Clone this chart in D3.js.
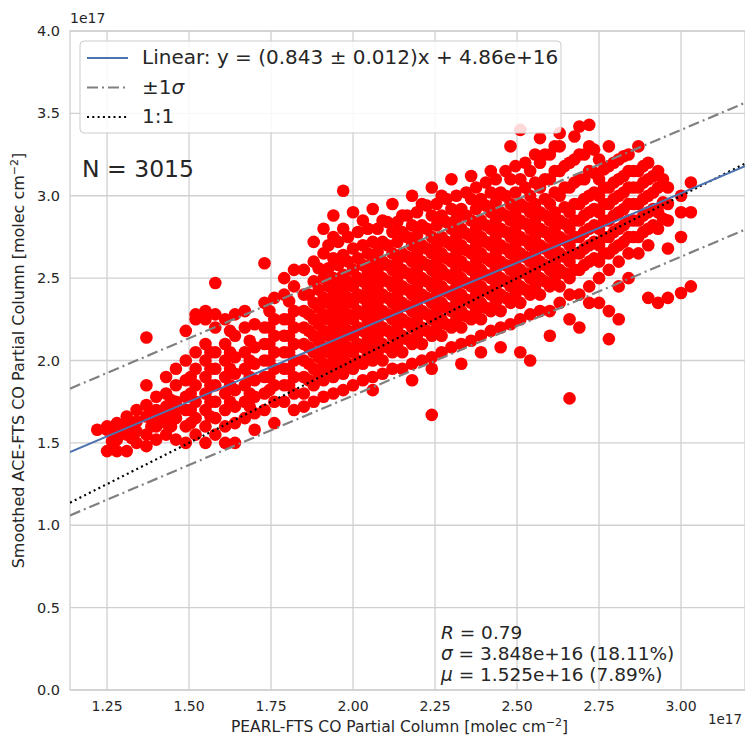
<!DOCTYPE html><html><head><meta charset="utf-8">
<script src="https://cdn.jsdelivr.net/npm/d3@7"></script>
<style>body{margin:0;background:#fff}text{font-family:"DejaVu Sans",sans-serif;fill:#262626}</style></head><body>
<svg id="c" width="745" height="738"></svg>
<script>
// scatter: x strip (1e17) and y values (1e17) in that strip
const stripX=[1.22,1.25,1.28,1.31,1.34,1.37,1.40,1.43,1.46,1.49,1.52,1.55,1.58,1.61,1.64,1.67,1.70,1.73,1.76,1.79,1.82,1.85,1.88,1.91,1.94,1.97,2.00,2.03,2.06,2.09,2.12,2.15,2.18,2.21,2.24,2.27,2.30,2.33,2.36,2.39,2.42,2.45,2.48,2.51,2.54,2.57,2.60,2.63,2.66,2.69,2.72,2.75,2.78,2.81,2.84,2.87,2.90,2.93,2.96,3.00,3.03];
const stripY=[[1.58],[1.58,1.45,1.6],[1.56,1.45,1.62,1.52],[1.45,1.55,1.66,1.6],[1.5,1.63,1.7,1.57],[1.55,1.66,1.73,1.48,2.14,1.85],[1.6,1.7,1.78,1.52,1.65],[1.62,1.72,1.8,1.55,1.9,1.68],[1.65,1.75,1.85,1.52,1.95,1.7],[1.6,1.7,1.78,1.88,2.0,1.5,2.18],[1.65,1.75,1.85,1.95,2.05,2.25,1.55,2.28],[1.6,1.7,1.8,1.9,2.0,2.1,2.25,1.5,2.3],[1.65,1.75,1.85,1.95,2.05,2.2,2.47,1.55,2.28],[1.7,1.8,1.9,2.0,2.1,2.25,1.6,1.5],[1.72,1.82,1.92,2.02,2.15,2.28,1.62,1.5],[1.75,1.85,1.95,2.05,2.2,1.65,2.3],[1.78,1.88,1.98,2.08,2.22,1.68,1.58],[1.8,1.9,2.0,2.1,2.2,2.59,1.7,2.35],[1.85,1.95,2.05,2.15,2.25,1.75,1.62,2.38],[1.85,1.95,2.05,2.15,2.25,2.4,1.75,2.5],[1.9,2.0,2.1,2.2,2.3,2.45,1.8,1.7,2.55],[1.9,2.0,2.1,2.2,2.3,2.4,2.55,1.8,1.72],[1.85,1.95,2.05,2.15,2.25,2.35,2.48,2.6,1.75,2.72],[1.88,1.98,2.08,2.18,2.28,2.38,2.5,2.65,1.78,2.8],[1.9,2.0,2.1,2.2,2.3,2.4,2.5,2.62,1.8,2.75,2.88],[1.92,2.02,2.12,2.22,2.32,2.42,2.52,2.64,1.82,3.03,2.8],[1.95,2.05,2.15,2.25,2.35,2.45,2.55,2.68,1.85,2.9],[1.98,2.08,2.18,2.28,2.38,2.48,2.58,2.7,1.88,2.85],[2.0,2.1,2.2,2.3,2.4,2.5,2.6,2.72,1.9,2.92,1.82],[2.0,2.1,2.2,2.3,2.4,2.5,2.6,2.72,1.92,2.85],[2.05,2.15,2.25,2.35,2.45,2.55,2.65,2.78,1.95,2.95],[2.05,2.15,2.25,2.35,2.45,2.55,2.65,2.78,1.95,2.88],[2.1,2.2,2.3,2.4,2.5,2.6,2.7,2.82,1.98,1.88,3.0],[2.1,2.2,2.3,2.4,2.5,2.6,2.7,2.82,2.0,2.95],[2.15,2.25,2.35,2.45,2.55,2.65,2.75,2.88,2.02,1.67,1.95,3.05],[2.15,2.25,2.35,2.45,2.55,2.65,2.75,2.88,2.05,3.0],[2.2,2.3,2.4,2.5,2.6,2.7,2.8,2.92,2.08,3.1],[2.2,2.3,2.4,2.5,2.6,2.7,2.8,2.92,2.1,1.98],[2.25,2.35,2.45,2.55,2.65,2.75,2.85,2.98,2.12,3.12],[2.25,2.35,2.45,2.55,2.65,2.75,2.85,2.98,2.15,2.05],[2.3,2.4,2.5,2.6,2.7,2.8,2.9,3.02,2.18,3.15],[2.3,2.4,2.5,2.6,2.7,2.8,2.9,3.02,2.2,2.08],[2.35,2.45,2.55,2.65,2.75,2.85,2.95,3.1,2.22,3.3],[2.35,2.45,2.55,2.65,2.75,2.85,2.95,3.1,2.25,2.05,3.4],[2.4,2.5,2.6,2.7,2.8,2.9,3.0,3.15,2.28,2.0],[2.4,2.5,2.6,2.7,2.8,2.9,3.05,3.2,2.3,3.35],[2.45,2.55,2.65,2.75,2.85,2.95,3.1,3.25,2.3,2.15],[2.45,2.55,2.65,2.75,2.85,3.0,3.15,3.3,2.35,3.38],[2.5,2.6,2.7,2.8,2.9,3.05,3.2,2.4,1.77,2.25],[2.55,2.65,2.75,2.85,2.95,3.1,3.25,3.42,2.4,2.2],[2.6,2.7,2.8,2.9,3.0,3.15,3.3,3.43,2.45,2.35],[2.6,2.7,2.8,2.9,3.0,3.1,3.22,2.5,2.35],[2.65,2.75,2.85,2.95,3.05,3.18,3.3,2.55,2.3,2.13],[2.7,2.8,2.9,3.0,3.1,3.22,2.6,2.45,2.25],[2.75,2.85,2.95,3.05,3.15,3.25,2.65,2.5],[2.75,2.85,2.95,3.05,3.15,2.65,3.3],[2.8,2.9,3.0,3.1,3.2,2.7,2.38],[2.8,2.9,3.05,3.15,2.35],[2.85,2.95,3.05,2.68,2.38],[2.9,3.0,2.41,2.75],[2.45,2.9,3.08]];
// denser core of the cloud, second pass of readings
const coreX=[1.265,1.325,1.385,1.445,1.505,1.565,1.625,1.685,1.745,1.805,1.865,1.895,1.925,1.955,1.985,2.015,2.045,2.075,2.105,2.135,2.165,2.195,2.225,2.255,2.285,2.315,2.345,2.375,2.405,2.435,2.465,2.495,2.525,2.555,2.585,2.615,2.645,2.675,2.705,2.735,2.765,2.795,2.825,2.855,2.885,2.915,2.945];
const coreY=[[1.51,1.57],[1.53,1.6],[1.6,1.69],[1.67,1.76,1.6],[1.7,1.8,1.9,1.62],[1.75,1.85,1.95,2.05,1.66],[1.75,1.85,1.95,2.05,2.18],[1.8,1.9,2.0,2.12,1.72],[1.82,1.9,2.0,2.1,2.2,2.3],[1.85,1.95,2.05,2.15,2.25,2.36],[1.88,1.98,2.08,2.18,2.28,2.4],[1.92,2.02,2.12,2.22,2.32,2.43,2.56],[1.95,2.05,2.15,2.25,2.35,2.45,2.56,2.7],[1.96,2.06,2.16,2.26,2.36,2.46,2.58,2.72],[1.98,2.08,2.18,2.28,2.38,2.48,2.6,2.75],[2.0,2.1,2.2,2.3,2.4,2.5,2.62,2.78],[2.04,2.14,2.24,2.34,2.44,2.54,2.65,2.8],[2.05,2.15,2.25,2.35,2.45,2.55,2.66,2.8],[2.08,2.18,2.28,2.38,2.48,2.58,2.7,2.84],[2.1,2.2,2.3,2.4,2.5,2.6,2.72,2.84],[2.13,2.23,2.33,2.43,2.53,2.63,2.75,2.88],[2.15,2.25,2.35,2.45,2.55,2.65,2.76,2.9],[2.18,2.28,2.38,2.48,2.58,2.68,2.8,2.94],[2.2,2.3,2.4,2.5,2.6,2.7,2.82,2.95],[2.22,2.32,2.42,2.52,2.62,2.72,2.84,2.98],[2.25,2.35,2.45,2.55,2.65,2.75,2.86,3.0],[2.27,2.37,2.47,2.57,2.67,2.77,2.88,3.02],[2.3,2.4,2.5,2.6,2.7,2.8,2.92,3.05],[2.32,2.42,2.52,2.62,2.72,2.82,2.94,3.08],[2.35,2.45,2.55,2.65,2.75,2.85,2.96,3.1],[2.38,2.48,2.58,2.68,2.78,2.88,3.0,3.15],[2.4,2.5,2.6,2.7,2.8,2.9,3.02,3.18],[2.43,2.53,2.63,2.73,2.83,2.93,3.05,3.2],[2.45,2.55,2.65,2.75,2.85,2.95,3.08,3.25],[2.48,2.58,2.68,2.78,2.88,2.98,3.1,3.25],[2.5,2.6,2.7,2.8,2.9,3.02,3.15,3.3],[2.53,2.63,2.73,2.83,2.93,3.05,3.18],[2.55,2.65,2.75,2.85,2.95,3.08,3.22,3.36],[2.58,2.68,2.78,2.88,2.98,3.1,3.25],[2.62,2.72,2.82,2.92,3.02,3.14,3.28],[2.65,2.75,2.85,2.95,3.05,3.16],[2.68,2.78,2.88,2.98,3.08,3.2],[2.72,2.82,2.92,3.02,3.12,3.24],[2.75,2.85,2.95,3.05,3.15],[2.78,2.88,2.98,3.08,3.18],[2.82,2.92,3.02,3.12],[2.86,2.96,3.1]];
const slope=0.843, intercept=0.486, sigma=0.3848;
const xTicks=[1.25,1.5,1.75,2.0,2.25,2.5,2.75,3.0];
const yTicks=[0,0.5,1,1.5,2,2.5,3,3.5,4];
const legendLabels=["Linear: y = (0.843 ± 0.012)x + 4.86e+16","±1σ","1:1"];
const statLines=["R = 0.79","σ = 3.848e+16 (18.11%)","μ = 1.525e+16 (7.89%)"];

const svg=d3.select("#c");
const L=70,R=745,T=31,B=690;
const x=d3.scaleLinear().domain([1.137,3.195]).range([L,R]);
const y=d3.scaleLinear().domain([0,4]).range([B,T]);
svg.append("defs").append("clipPath").attr("id","cp").append("rect").attr("x",L).attr("y",T).attr("width",R-L).attr("height",B-T);
const g=svg.append("g");
g.selectAll(".gx").data(xTicks).join("line").attr("x1",d=>x(d)).attr("x2",d=>x(d)).attr("y1",T).attr("y2",B).attr("stroke","#d0d0d0").attr("stroke-width",1.3);
g.selectAll(".gy").data(yTicks).join("line").attr("y1",d=>y(d)).attr("y2",d=>y(d)).attr("x1",L).attr("x2",R).attr("stroke","#d0d0d0").attr("stroke-width",1.3);
g.append("rect").attr("x",L).attr("y",T).attr("width",R-L).attr("height",B-T).attr("fill","none").attr("stroke","#d0d0d0").attr("stroke-width",1.3);
g.selectAll(".xt").data(xTicks).join("text").attr("x",d=>x(d)).attr("y",B+21).attr("text-anchor","middle").attr("font-size",14).text(d=>d.toFixed(2));
g.selectAll(".yt").data(yTicks).join("text").attr("x",L-10).attr("y",d=>y(d)+5).attr("text-anchor","end").attr("font-size",14.5).text(d=>d.toFixed(1));
svg.append("text").attr("x",L).attr("y",T-8).attr("font-size",14).text("1e17");
svg.append("text").attr("x",R-3).attr("y",B+34).attr("text-anchor","end").attr("font-size",13.5).text("1e17");
const xl=svg.append("text").attr("x",(L+R)/2-8).attr("y",B+42).attr("text-anchor","middle").attr("font-size",15.5);
xl.append("tspan").text("PEARL-FTS CO Partial Column [molec cm");xl.append("tspan").attr("font-size",11).attr("dy",-6).text("−2");xl.append("tspan").attr("dy",6).text("]");
const yl=svg.append("text").attr("transform",`translate(24,${(T+B)/2}) rotate(-90)`).attr("text-anchor","middle").attr("font-size",16);
yl.append("tspan").text("Smoothed ACE-FTS CO Partial Column [molec cm");yl.append("tspan").attr("font-size",11).attr("dy",-6).text("−2");yl.append("tspan").attr("dy",6).text("]");

const pts=stripX.flatMap((sx,i)=>stripY[i].map(v=>[sx,v])).concat(coreX.flatMap((sx,i)=>coreY[i].map(v=>[sx,v])));
const pg=svg.append("g").attr("clip-path","url(#cp)");
pg.selectAll("circle").data(pts).join("circle").attr("cx",d=>x(d[0])).attr("cy",d=>y(d[1])).attr("r",6.3).attr("fill","#ff0000");
const dom=x.domain();
const line=(f,st,dash,w)=>pg.append("line").attr("x1",x(dom[0])).attr("y1",y(f(dom[0]))).attr("x2",x(dom[1])).attr("y2",y(f(dom[1]))).attr("stroke",st).attr("stroke-width",w).attr("stroke-dasharray",dash);
line(v=>slope*v+intercept+sigma,"#808080","11,4,2,4",2.2);
line(v=>slope*v+intercept-sigma,"#808080","11,4,2,4",2.2);
line(v=>v,"#000","2,3.3",2.2);
line(v=>slope*v+intercept,"#4c72b0",null,2);

const lg=svg.append("g");
lg.append("rect").attr("x",80).attr("y",41).attr("width",481).attr("height",92).attr("rx",4).attr("fill","#fff").attr("fill-opacity",0.85).attr("stroke","#ccc");
const styles=[["#4c72b0",null],["#808080","11,4,2,4"],["#000","2,3.3"]];
legendLabels.forEach((t,i)=>{const yy=58+i*29.5;
 lg.append("line").attr("x1",87).attr("x2",128).attr("y1",yy).attr("y2",yy).attr("stroke",styles[i][0]).attr("stroke-width",2.2).attr("stroke-dasharray",styles[i][1]);
 const tx=lg.append("text").attr("x",142).attr("y",yy+6).attr("font-size",20);
 if(i==1){tx.append("tspan").text("±1");tx.append("tspan").attr("font-style","italic").text("σ");} else tx.text(t);});
svg.append("text").attr("x",82).attr("y",177).attr("font-size",23.5).text("N = 3015");
statLines.forEach((t,i)=>{const tx=svg.append("text").attr("x",441).attr("y",639+i*21).attr("font-size",18.5);
 const p=t.split(" ");tx.append("tspan").attr("font-style","italic").text(p[0]);tx.append("tspan").text(" "+p.slice(1).join(" "));});
</script></body></html>
